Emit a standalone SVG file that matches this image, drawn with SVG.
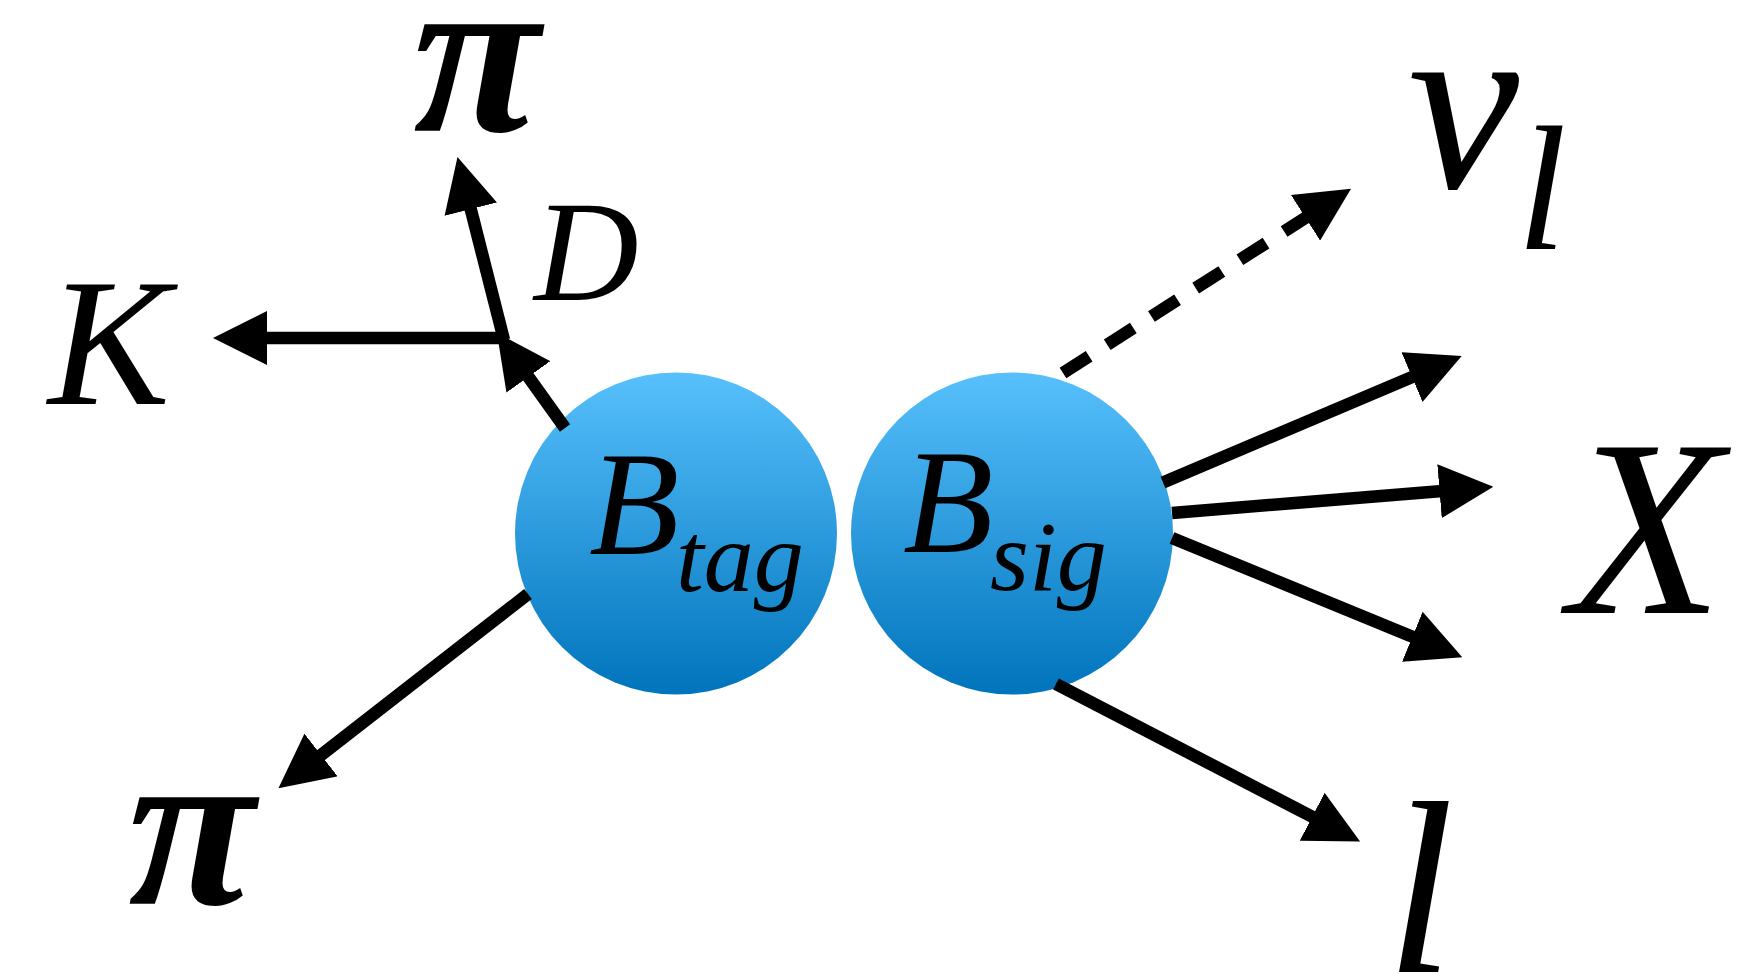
<svg xmlns="http://www.w3.org/2000/svg" width="1762" height="974" viewBox="0 0 1762 974">
  <style>
    .ln { stroke: #000; stroke-width: 12.5; fill: none; stroke-linecap: butt; }
    .dash { stroke-dasharray: 31 21.5; }
  </style>
  <defs>
    <linearGradient id="ballGrad" x1="0" y1="0" x2="0" y2="1">
      <stop offset="0" stop-color="#57C0FC"/>
      <stop offset="1" stop-color="#0074BC"/>
    </linearGradient>
    <marker id="ah" markerUnits="userSpaceOnUse" viewBox="0 -27 54 54" markerWidth="54" markerHeight="54" refX="6" refY="0" orient="auto">
      <path d="M0,-27 L54,0 L0,27 Z" fill="#000"/>
    </marker>
  </defs>

  <g id="node-btag">
    <circle cx="676" cy="533.5" r="161" fill="url(#ballGrad)"/>
    <text x="589" y="554" font-size="148" font-family="Liberation Serif" font-style="italic">B</text>
    <text x="676" y="591" font-size="100" font-family="Liberation Serif" font-style="italic">tag</text>
  </g>
  <g id="node-bsig">
    <circle cx="1012" cy="533.5" r="161" fill="url(#ballGrad)"/>
    <text x="903" y="552" font-size="148" font-family="Liberation Serif" font-style="italic">B</text>
    <text x="990" y="590" font-size="100" font-family="Liberation Serif" font-style="italic">sig</text>
  </g>

  <g id="connectors">
    <line class="ln" x1="565" y1="428" x2="524.9" y2="372" marker-end="url(#ah)"/>
    <line class="ln" x1="501" y1="338" x2="261" y2="338" marker-end="url(#ah)"/>
    <line class="ln" x1="504" y1="340" x2="469.3" y2="203.4" marker-end="url(#ah)"/>
    <line class="ln" x1="528" y1="594" x2="316.3" y2="758.7" marker-end="url(#ah)"/>
    <line class="ln dash" x1="1063" y1="373" x2="1310.6" y2="214.6" marker-end="url(#ah)"/>
    <line class="ln" x1="1163" y1="482.5" x2="1417.5" y2="374.7" marker-end="url(#ah)"/>
    <line class="ln" x1="1172" y1="513" x2="1445.5" y2="490.7" marker-end="url(#ah)"/>
    <line class="ln" x1="1172" y1="538" x2="1417.9" y2="639" marker-end="url(#ah)"/>
    <line class="ln" x1="1056" y1="684" x2="1317.5" y2="819.5" marker-end="url(#ah)"/>
  </g>

  <g id="node-pi-top"><text x="413" y="131" font-size="232" font-weight="bold" font-family="Liberation Serif" font-style="italic">π</text></g>
  <g id="node-D"><text x="534" y="300" font-size="145" font-family="Liberation Serif" font-style="italic">D</text></g>
  <g id="node-K"><text x="48" y="404" font-size="183" font-family="Liberation Serif" font-style="italic">K</text></g>
  <g id="node-pi-bottom"><text x="128" y="904" font-size="232" font-weight="bold" font-family="Liberation Serif" font-style="italic">π</text></g>
  <g id="node-nu">
    <text x="1408" y="188" font-size="250" font-family="Liberation Serif" font-style="italic">ν</text>
    <text x="1517" y="249" font-size="178" font-family="Liberation Serif" font-style="italic">l</text>
  </g>
  <g id="node-X"><text x="1569" y="613" font-size="252" font-family="Liberation Serif" font-style="italic">X</text></g>
  <g id="node-l"><text x="1386" y="972" font-size="245" font-family="Liberation Serif" font-style="italic">l</text></g>
</svg>
